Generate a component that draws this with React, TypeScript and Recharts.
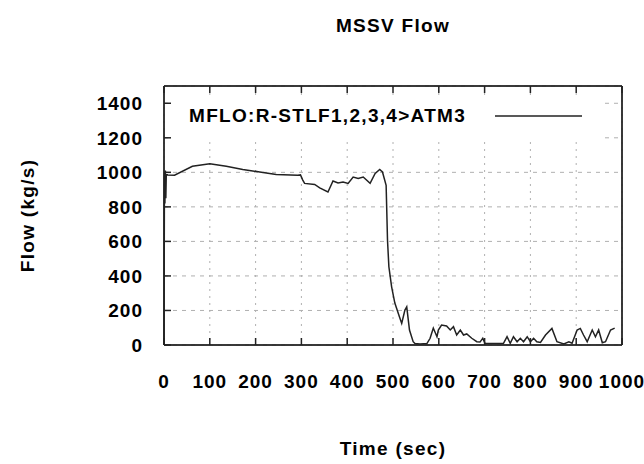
import React from 'react';
import { LineChart, Line, XAxis, YAxis, CartesianGrid, Legend, ReferenceLine } from 'recharts';

const title = 'MSSV Flow';
const seriesName = 'MFLO:R-STLF1,2,3,4>ATM3';
const xLabel = 'Time (sec)';
const yLabel = 'Flow (kg/s)';

const time = [
  0, 1, 2, 3, 4, 5, 8, 23, 62, 100, 136, 172, 209, 245, 292, 298, 303, 307, 329, 340,
  358, 369, 380, 391, 402, 413, 424, 435, 450, 461, 471, 477, 485, 488, 491, 497, 504, 514, 519, 526,
  530, 536, 544, 548, 559, 574, 581, 588, 596, 599, 606, 617, 625, 632, 639, 647, 654, 661, 672, 683,
  690, 696, 701, 741, 749, 756, 763, 771, 778, 785, 793, 800, 807, 814, 822, 833, 847, 858, 873, 884,
  891, 902, 909, 916, 924, 935, 942, 949, 957, 964, 975, 984,
];
const flow = [
  0, 1000, 820, 1010, 850, 990, 985, 983, 1035, 1050, 1035, 1017, 1002, 988, 983, 985, 955, 936, 930, 910,
  886, 950, 938, 944, 936, 973, 965, 973, 936, 994, 1017, 1002, 925, 607, 453, 337, 243, 164, 125, 202,
  221, 87, 19, 8, 6, 8, 39, 98, 48, 87, 116, 110, 87, 106, 58, 87, 58, 64, 39, 19,
  17, 39, 8, 8, 48, 10, 48, 19, 39, 19, 48, 19, 39, 19, 15, 58, 96, 19, 6, 19,
  10, 87, 96, 58, 19, 87, 48, 87, 13, 19, 87, 98,
];

const xTicks = [0, 100, 200, 300, 400, 500, 600, 700, 800, 900, 1000];
const yTicks = [0, 200, 400, 600, 800, 1000, 1200, 1400];
const xDomain = [0, 1000];
const yDomain = [0, 1500];

const data = time.map((t, i) => ({ time: t, flow: flow[i] }));

const FONT = '"Liberation Sans", Arial, sans-serif';
const TICK_LEN = 7;
const BOTTOM_MARGIN = 30;
const LEFT_MARGIN = 21;
const FRAME = '#222';

const labelProps = { fontSize: 19, fontWeight: 'bold' as const, fill: '#000', letterSpacing: 1, fontFamily: FONT };

const frameRows = (args: any) => {
  const o = args && args.offset;
  return o && typeof o.top === 'number' ? [o.top, o.top + o.height] : [];
};
const frameCols = (args: any) => {
  const o = args && args.offset;
  return o && typeof o.left === 'number' ? [o.left, o.left + o.width] : [];
};

const BottomTick = (props: any) => {
  const { x, y, payload } = props;
  const axisY = y - BOTTOM_MARGIN;
  return (
    <g>
      <line x1={x} x2={x} y1={axisY} y2={axisY - TICK_LEN} stroke={FRAME} strokeWidth={1.5} />
      <text x={x} y={y} dy="0.71em" textAnchor="middle" {...labelProps}>{payload.value}</text>
    </g>
  );
};

const LeftTick = (props: any) => {
  const { x, y, payload } = props;
  const axisX = x + LEFT_MARGIN;
  return (
    <g>
      <line x1={axisX} x2={axisX + TICK_LEN} y1={y} y2={y} stroke={FRAME} strokeWidth={1.5} />
      <text x={x} y={y} dy="0.355em" textAnchor="end" {...labelProps}>{payload.value}</text>
    </g>
  );
};

const TopTick = (props: any) => {
  const { x, y } = props;
  return <line x1={x} x2={x} y1={y} y2={y + TICK_LEN} stroke={FRAME} strokeWidth={1.5} />;
};

const RightTick = (props: any) => {
  const { x, y } = props;
  return <line x1={x} x2={x - TICK_LEN} y1={y} y2={y} stroke={FRAME} strokeWidth={1.5} />;
};

const LegendBox = (props: any) => {
  const p = props.payload && props.payload[0];
  return (
    <svg width={428} height={45} style={{ display: 'block' }}>
      <rect x={0} y={0} width={428} height={45} fill="#fff" />
      <text x={17} y={27} fontSize={19} fontWeight="bold" fill="#000" letterSpacing={1.3} fontFamily={FONT}>
        {p ? p.value : seriesName}
      </text>
      <line x1={323} x2={410} y1={21} y2={21} stroke="#222" strokeWidth={1.5} />
    </svg>
  );
};

export default function App() {
  return (
    <div style={{ position: 'absolute', left: 0, top: 0, width: 644, height: 464, fontFamily: FONT, background: '#fff' }}>
      <div
        style={{
          position: 'absolute', left: 164, width: 458, top: 16, textAlign: 'center',
          fontSize: 19, fontWeight: 'bold', lineHeight: '19px', letterSpacing: 1.3, color: '#000', zIndex: 2,
        }}
      >
        {title}
      </div>
      <LineChart width={644} height={464} data={data} margin={{ top: 85, right: 21, bottom: 4, left: 5 }}>
        <CartesianGrid horizontal vertical={false} stroke="#b0b0b0" strokeDasharray="4 5" />
        <CartesianGrid horizontal={false} vertical stroke="#b0b0b0" strokeDasharray="2 5" />
        <CartesianGrid
          horizontal
          vertical
          stroke="#555"
          strokeWidth={1.5}
          horizontalCoordinatesGenerator={frameRows}
          verticalCoordinatesGenerator={frameCols}
        />
        <XAxis
          dataKey="time"
          type="number"
          domain={xDomain}
          ticks={xTicks}
          interval={0}
          height={115}
          tickSize={0}
          tickMargin={BOTTOM_MARGIN}
          axisLine={{ stroke: FRAME, strokeWidth: 1.5 }}
          tickLine={false}
          tick={<BottomTick />}
          label={{ value: xLabel, position: 'insideBottom', offset: 5, fontSize: 19, fontWeight: 'bold', fill: '#000', letterSpacing: 1.3 }}
        />
        <XAxis
          xAxisId="top"
          orientation="top"
          dataKey="time"
          type="number"
          domain={xDomain}
          ticks={xTicks}
          interval={0}
          height={1}
          tickSize={0}
          tickMargin={0}
          axisLine={false}
          tickLine={false}
          tick={<TopTick />}
        />
        <YAxis
          type="number"
          domain={yDomain}
          ticks={yTicks}
          interval={0}
          width={159}
          tickSize={0}
          tickMargin={LEFT_MARGIN}
          axisLine={{ stroke: FRAME, strokeWidth: 1.5 }}
          tickLine={false}
          tick={<LeftTick />}
          label={{ value: yLabel, angle: -90, position: 'insideLeft', offset: 22, fontSize: 19, fontWeight: 'bold', fill: '#000', letterSpacing: 1.3, style: { textAnchor: 'middle' } }}
        />
        <YAxis
          yAxisId="right"
          orientation="right"
          type="number"
          domain={yDomain}
          ticks={yTicks}
          interval={0}
          width={1}
          tickSize={0}
          tickMargin={0}
          axisLine={false}
          tickLine={false}
          tick={<RightTick />}
        />
        <ReferenceLine y={yDomain[1]} stroke={FRAME} strokeWidth={1.5} ifOverflow="visible" />
        <ReferenceLine x={xDomain[1]} stroke={FRAME} strokeWidth={1.5} ifOverflow="visible" />
        <Legend
          layout="horizontal"
          verticalAlign="middle"
          align="center"
          content={<LegendBox />}
          wrapperStyle={{ top: 95, left: 172, width: 428, height: 45 }}
        />
        <Line
          type="linear"
          dataKey="flow"
          name={seriesName}
          stroke="#222"
          strokeWidth={1.5}
          dot={false}
          isAnimationActive={false}
        />
      </LineChart>
    </div>
  );
}
